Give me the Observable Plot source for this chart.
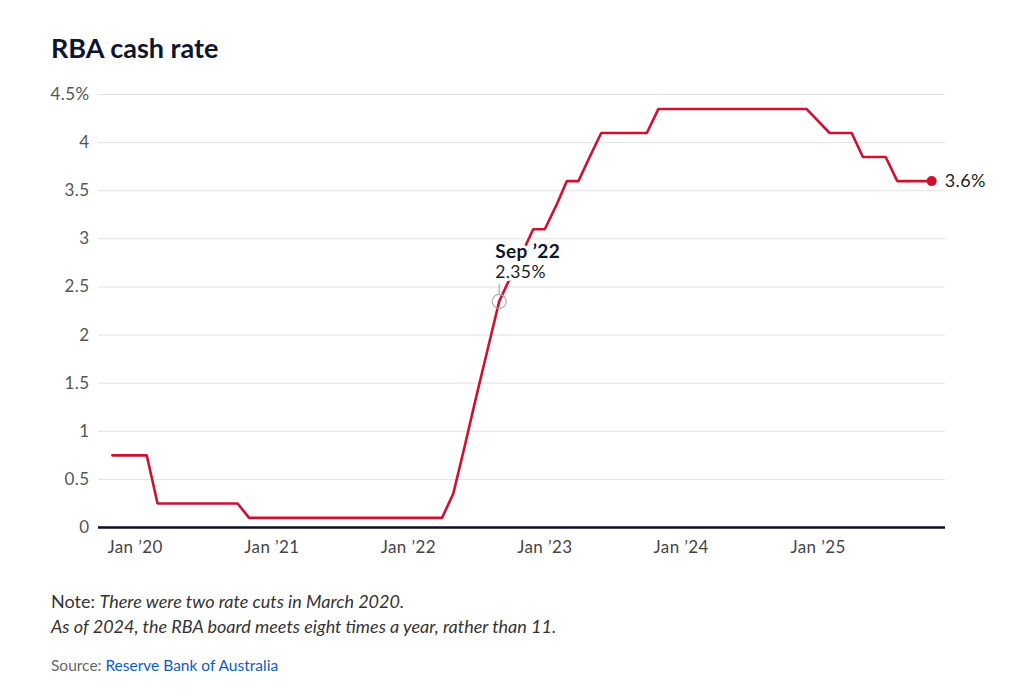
<!DOCTYPE html>
<html>
<head>
<meta charset="utf-8">
<script src="https://cdn.jsdelivr.net/npm/d3@7"></script>
<script src="https://cdn.jsdelivr.net/npm/@observablehq/plot@0.6"></script>
<style>
  body { margin: 0; background: #fff; font-family: Lato, "Noto Sans", sans-serif; }
  #wrap { position: relative; width: 1024px; height: 690px; overflow: hidden; }
  #title { position: absolute; left: 51px; top: 30px; margin: 0; font-size: 27px; line-height: 36px; font-weight: 700; color: #0d1530; }
  #chart { position: absolute; left: 0; top: 80px; }
  .note { position: absolute; left: 51px; font-size: 18px; line-height: 24px; color: #333; }
  .note i { font-style: italic; }
  #source { position: absolute; left: 51px; top: 654px; font-size: 15.5px; line-height: 22px; color: #666; }
  #source a { color: #0b5cc5; text-decoration: none; }
</style>
</head>
<body>
<div id="wrap">
  <h1 id="title">RBA cash rate</h1>
  <div id="chart"></div>
  <div class="note" style="top:589px">Note: <i>There were two rate cuts in March 2020.</i></div>
  <div class="note" style="top:614px"><i>As of 2024, the RBA board meets eight times a year, rather than 11.</i></div>
  <div id="source">Source: <a href="#">Reserve Bank of Australia</a></div>
</div>
<script>
// Month of observation (monthly to 2023, meeting months from 2024)
const months = [
  "2019-11","2019-12",
  "2020-01","2020-02","2020-03","2020-04","2020-05","2020-06","2020-07","2020-08","2020-09","2020-10","2020-11","2020-12",
  "2021-01","2021-02","2021-03","2021-04","2021-05","2021-06","2021-07","2021-08","2021-09","2021-10","2021-11","2021-12",
  "2022-01","2022-02","2022-03","2022-04","2022-05","2022-06","2022-07","2022-08","2022-09","2022-10","2022-11","2022-12",
  "2023-01","2023-02","2023-03","2023-04","2023-05","2023-06","2023-07","2023-08","2023-09","2023-10","2023-11","2023-12",
  "2024-02","2024-03","2024-05","2024-06","2024-08","2024-09","2024-11","2024-12",
  "2025-02","2025-04","2025-05","2025-07","2025-08","2025-09","2025-11"
];
// Cash rate target (%)
const rates = [
  0.75, 0.75,
  0.75, 0.75, 0.25, 0.25, 0.25, 0.25, 0.25, 0.25, 0.25, 0.25, 0.1, 0.1,
  0.1, 0.1, 0.1, 0.1, 0.1, 0.1, 0.1, 0.1, 0.1, 0.1, 0.1, 0.1,
  0.1, 0.1, 0.1, 0.1, 0.35, 0.85, 1.35, 1.85, 2.35, 2.6, 2.85, 3.1,
  3.1, 3.35, 3.6, 3.6, 3.85, 4.1, 4.1, 4.1, 4.1, 4.1, 4.35, 4.35,
  4.35, 4.35, 4.35, 4.35, 4.35, 4.35, 4.35, 4.35,
  4.1, 4.1, 3.85, 3.85, 3.6, 3.6, 3.6
];
const yTicks = [0, 0.5, 1, 1.5, 2, 2.5, 3, 3.5, 4, 4.5];
const xTickDates = ["2020-01", "2021-01", "2022-01", "2023-01", "2024-01", "2025-01"];
const xTickLabels = ["Jan ’20", "Jan ’21", "Jan ’22", "Jan ’23", "Jan ’24", "Jan ’25"];
const xDomain = ["2019-09-25", "2025-12-08"];
const highlightMonth = "2022-09";
const highlightLabel = "Sep ’22";

const parseM = d3.utcParse("%Y-%m");
const parseD = d3.utcParse("%Y-%m-%d");
const data = months.map((m, i) => ({date: parseM(m), rate: rates[i]}));
const last = data[data.length - 1];
const hi = data.find(d => +d.date === +parseM(highlightMonth));
const xt = xTickDates.map(parseM);

const red = "#cc1230";
const fmtPct = v => `${v}%`;

const chart = Plot.plot({
  width: 1024,
  height: 490,
  marginLeft: 98,
  marginRight: 79,
  marginTop: 14,
  marginBottom: 43,
  style: {fontFamily: "Lato, 'Noto Sans', sans-serif", fontSize: "17px", color: "#555", background: "transparent", letterSpacing: "0.4px"},
  x: {type: "utc", domain: xDomain.map(parseD)},
  y: {domain: [0, 4.5]},
  marks: [
    Plot.gridY(yTicks, {stroke: "#e2e2e2", strokeOpacity: 1, strokeWidth: 1}),
    Plot.axisY(yTicks, {tickSize: 0, tickPadding: 9, fontSize: 17, fill: "#555",
      tickFormat: d => d === 4.5 ? "4.5%" : String(d), label: null}),
    Plot.axisX(xt, {tickSize: 0, tickPadding: 13, fontSize: 17, fill: "#444",
      tickFormat: (d, i) => xTickLabels[i], label: null}),
    Plot.ruleY([0], {stroke: "#0c0c2c", strokeWidth: 2.6}),
    Plot.line(data, {x: "date", y: "rate", stroke: red, strokeWidth: 2.6, strokeLinejoin: "miter"}),
    Plot.dot([hi], {x: "date", y: "rate", r: 7, stroke: "#aaa", strokeWidth: 1.2, fill: "none"}),
    Plot.vector([hi], {x: "date", y: "rate", dy: -7, length: 10, rotate: 0, anchor: "start",
      stroke: "#aaa", strokeWidth: 1.2,
      shape: {draw(ctx, l) { ctx.moveTo(0, 0); ctx.lineTo(0, -l); }}}),
    Plot.text([hi], {x: "date", y: "rate", text: () => highlightLabel, dx: -4, dy: -49,
      textAnchor: "start", fontSize: 19, fontWeight: 700, fill: "#0d1530",
      stroke: "white", strokeWidth: 6}),
    Plot.text([hi], {x: "date", y: "rate", text: d => fmtPct(d.rate), dx: -4, dy: -29,
      textAnchor: "start", fontSize: 17.5, fill: "#222", stroke: "white", strokeWidth: 6}),
    Plot.dot([last], {x: "date", y: "rate", r: 5, fill: red}),
    Plot.text([last], {x: "date", y: "rate", text: d => fmtPct(d.rate), dx: 13,
      textAnchor: "start", fontSize: 18, fill: "#222"})
  ]
});
document.getElementById("chart").appendChild(chart);
</script>
</body>
</html>
